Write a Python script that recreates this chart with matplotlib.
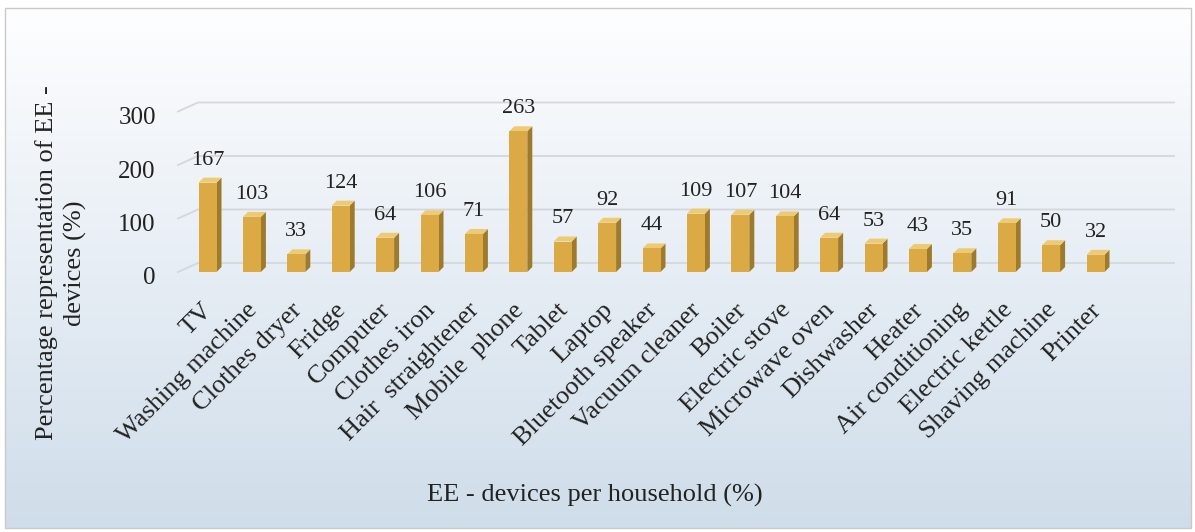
import numpy as np
import matplotlib
matplotlib.use("Agg")
import matplotlib.pyplot as plt
import matplotlib.transforms as mtransforms
from matplotlib.patches import Polygon, Rectangle

# ---- data -------------------------------------------------------------
devices = [
    "TV", "Washing machine", "Clothes dryer", "Fridge", "Computer",
    "Clothes iron", "Hair  straightener", "Mobile  phone", "Tablet", "Laptop",
    "Bluetooth speaker", "Vacuum cleaner", "Boiler", "Electric stove",
    "Microwave oven", "Dishwasher", "Heater", "Air conditioning",
    "Electric kettle", "Shaving machine", "Printer",
]
share = [167, 103, 33, 124, 64, 106, 71, 263, 57, 92, 44, 109, 107, 104,
         64, 53, 43, 35, 91, 50, 32]
y_ticks = [0, 100, 200, 300]
y_title = "Percentage representation of EE -\ndevices (%)"
x_title = "EE - devices per household (%)"

# ---- figure ------------------------------------------------------------
W, H, DPI = 1195, 532, 100
plt.rcParams["font.family"] = ["Liberation Serif", "DejaVu Serif"]
fig = plt.figure(figsize=(W / DPI, H / DPI), dpi=DPI, facecolor="white")

# chart area with a soft white-to-blue vertical gradient and thin frame
bg = fig.add_axes([0, 0, 1, 1], zorder=-10)
bg.set_xlim(0, W)
bg.set_ylim(H, 0)
bg.axis("off")
top_c = np.array([254, 254, 255]) / 255
bot_c = np.array([207, 221, 234]) / 255
t = np.linspace(0, 1, 256)[:, None]
grad = (top_c[None, :] * (1 - t) + bot_c[None, :] * t)[:, None, :]
bg.imshow(grad, extent=(5, 1191, 528, 8), aspect="auto", interpolation="bicubic")
bg.add_patch(Rectangle((5, 8), 1186, 520, fill=False, ec="#c9c9c9", lw=1.0))

# plot area (front plane of the 3-D columns)
px_left, px_right = 178, 1154
px_zero, px_per_unit = 272, 0.535
ymax = 310
step_px = 44.4
first_px = 207.5
x0 = (px_left - first_px) / step_px
x1 = (px_right - first_px) / step_px
ax_h = ymax * px_per_unit
ax = fig.add_axes([px_left / W, (H - px_zero) / H, (px_right - px_left) / W, ax_h / H])
ax.set_xlim(x0, x1)
ax.set_ylim(0, ymax)
ax.patch.set_alpha(0)
for s in ax.spines.values():
    s.set_visible(False)

# 3-D depth offsets in data units
dep_x, dep_y = 20 / step_px, 9 / px_per_unit          # back wall
bar_dx, bar_dy = 5 / step_px, 5 / px_per_unit          # column depth
bw = 18 / step_px

# gridlines on the back wall with the side-wall stub
for v in y_ticks:
    ax.plot([x0, x0 + dep_x, x1 + dep_x], [v, v + dep_y, v + dep_y],
            color="#d4d8dc", lw=1.3, clip_on=False, zorder=1)

front_c = "#dcaa45"
side_c = "#9d7a2c"
top_c3 = "#eccb74"
xs = np.arange(len(share))
for x, v in zip(xs, share):
    l, r = x - bw / 2, x + bw / 2
    ax.add_patch(Polygon([(r, 0), (r, v), (r + bar_dx, v + bar_dy), (r + bar_dx, bar_dy)],
                         closed=True, fc=side_c, ec="none", zorder=3, clip_on=False))
    ax.add_patch(Polygon([(l, v), (r, v), (r + bar_dx, v + bar_dy), (l + bar_dx, v + bar_dy)],
                         closed=True, fc=top_c3, ec="none", zorder=3, clip_on=False))
    ax.bar(x, v, width=bw, color=front_c, edgecolor="none", zorder=4, clip_on=False)
    ax.annotate(f"{v}", xy=(x, v), xytext=(0, 13), textcoords="offset points",
                ha="center", va="baseline", fontsize=16, color="#222222",
                zorder=5, annotation_clip=False)

# axes ticks and labels
ax.set_yticks(y_ticks)
ax.set_yticklabels([str(v) for v in y_ticks], fontsize=18, color="#222222")
ax.tick_params(axis="y", length=0, pad=16)
ax.set_xticks(xs)
ax.set_xticklabels(devices, rotation=45, ha="right", va="center",
                   rotation_mode="anchor", fontsize=19, color="#222222")
ax.tick_params(axis="x", length=0, pad=25)
shift_y = mtransforms.ScaledTranslation(0, -4 / DPI, fig.dpi_scale_trans)
for lab in ax.get_yticklabels():
    lab.set_transform(lab.get_transform() + shift_y)
shift_x = mtransforms.ScaledTranslation(2 / DPI, 0, fig.dpi_scale_trans)
for lab in ax.get_xticklabels():
    lab.set_transform(lab.get_transform() + shift_x)

fig.text(61 / W, 1 - 263 / H, y_title, rotation=90, ha="center", va="center",
         multialignment="center", fontsize=19, linespacing=1.35, color="#222222")
fig.text(595 / W, 1 - 495 / H, x_title, ha="center", va="center",
         fontsize=19, color="#222222")

fig.savefig("out.png", dpi=DPI, facecolor="white")
